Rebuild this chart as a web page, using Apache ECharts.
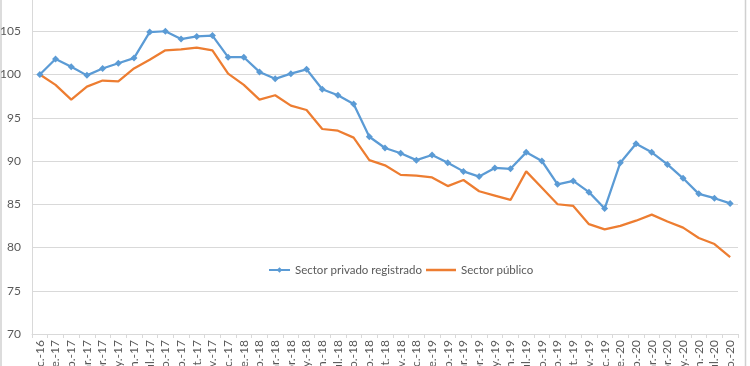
<!DOCTYPE html>
<html><head><meta charset="utf-8">
<script src="https://cdn.jsdelivr.net/npm/echarts@6/dist/echarts.min.js"></script>
<style>html,body{margin:0;padding:0;background:#fff}#c{width:750px;height:366px}</style>
</head><body><div id="c"></div>
<script>
const categories = ["dic.-16",
 "ene.-17","feb.-17","mar.-17","abr.-17","may.-17","jun.-17","jul.-17","ago.-17","sep.-17","oct.-17","nov.-17","dic.-17",
 "ene.-18","feb.-18","mar.-18","abr.-18","may.-18","jun.-18","jul.-18","ago.-18","sep.-18","oct.-18","nov.-18","dic.-18",
 "ene.-19","feb.-19","mar.-19","abr.-19","may.-19","jun.-19","jul.-19","ago.-19","sep.-19","oct.-19","nov.-19","dic.-19",
 "ene.-20","feb.-20","mar.-20","abr.-20","may.-20","jun.-20","jul.-20","ago.-20"];
const privado = [100,
 101.8,100.9,99.9,100.7,101.3,101.9,104.9,105.0,104.1,104.4,104.5,102.0,
 102.0,100.3,99.5,100.1,100.6,98.3,97.6,96.6,92.8,91.5,90.9,90.1,
 90.7,89.8,88.8,88.2,89.2,89.1,91.0,90.0,87.3,87.7,86.4,84.5,
 89.8,92.0,91.0,89.6,88.0,86.2,85.7,85.1];
const publico = [100,
 98.8,97.1,98.6,99.3,99.2,100.7,101.7,102.8,102.9,103.1,102.8,100.1,
 98.8,97.1,97.6,96.4,95.9,93.7,93.5,92.7,90.1,89.5,88.4,88.3,
 88.1,87.1,87.8,86.5,86.0,85.5,88.8,86.9,85.0,84.8,82.7,82.1,
 82.5,83.1,83.8,83.0,82.3,81.1,80.4,78.9];
const seriesNames = ["Sector privado registrado","Sector público"];
const yMin = 70, yMax = 110, yStep = 5;

const font = "Lato, 'Open Sans', sans-serif";
const legendText = {color:'#595959', fontSize:11.5, fontFamily:font};
const chart = echarts.init(document.getElementById('c'), null, {renderer:'canvas'});
chart.setOption({
  backgroundColor:'#fff',
  animation:false,
  grid:{left:32, right:12, top:-12, bottom:32, containLabel:false, outerBoundsMode:'none'},
  legend:[
    {left:268, top:264, padding:0, itemWidth:21, itemHeight:7, textStyle:legendText,
     data:[{name:seriesNames[0]}]},
    {left:426, top:264, padding:0, itemWidth:30, itemHeight:7, textStyle:legendText,
     data:[{name:seriesNames[1], icon:'path://M0,0 H30 V2.5 H0 Z', itemStyle:{color:'#ed7d31'}}]}
  ],
  graphic:[
    {type:'line', shape:{x1:1,y1:0,x2:1,y2:366}, style:{stroke:'#d0d0d0', lineWidth:1.5}},
    {type:'line', shape:{x1:745.5,y1:0,x2:745.5,y2:366}, style:{stroke:'#d0d0d0', lineWidth:1.5}}
  ],
  xAxis:{
    type:'category', data:categories, boundaryGap:true,
    axisLine:{lineStyle:{color:'#d9d9d9', width:1}},
    axisTick:{show:true, length:4, lineStyle:{color:'#d9d9d9'}},
    axisLabel:{rotate:90, interval:0, color:'#595959', fontSize:12, fontFamily:font, margin:6}
  },
  yAxis:{
    type:'value', min:yMin, max:yMax, interval:yStep,
    axisLine:{show:true, lineStyle:{color:'#d9d9d9'}},
    axisTick:{show:false},
    splitLine:{lineStyle:{color:'#d9d9d9', width:1}},
    axisLabel:{color:'#595959', fontSize:12, fontFamily:font, margin:11}
  },
  series:[
    {name:seriesNames[0], type:'line', data:privado, color:'#5b9bd5',
     symbol:'diamond', symbolSize:7, showSymbol:true,
     lineStyle:{width:2.25, color:'#5b9bd5'}, itemStyle:{color:'#5b9bd5'}},
    {name:seriesNames[1], type:'line', data:publico, color:'#ed7d31',
     symbol:'none', showSymbol:false,
     lineStyle:{width:2.25, color:'#ed7d31'}, itemStyle:{color:'#ed7d31'}}
  ]
});
</script></body></html>
